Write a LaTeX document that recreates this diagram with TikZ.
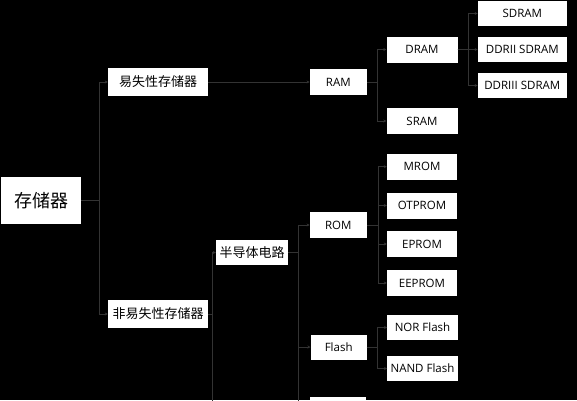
\documentclass[tikz,border=0pt]{standalone}
\usepackage{fontspec}
\setmainfont{Open Sans}
\newfontfamily\cjk{Noto Sans CJK SC}
\usetikzlibrary{arrows.meta}

\begin{document}
\begin{tikzpicture}[x=1pt, y=-1pt,
  box/.style={fill=white, inner sep=0pt, minimum width=71pt, minimum height=26pt, font=\fontsize{11.5}{13}\selectfont},
  cnbox/.style={box, font=\cjk\fontsize{13}{15}\selectfont},
  link/.style={draw=black!80, line width=0.6pt, -{Stealth[length=3pt, width=3pt]}}]
\fill[black] (0,0) rectangle (577,400);
\useasboundingbox (0,0) rectangle (577,400);

% Nodes
\node[cnbox, minimum width=80pt, minimum height=47pt, font=\cjk\fontsize{18}{20}\selectfont] (store) at (41,200.5) {存储器};
\node[cnbox, minimum width=100pt, minimum height=28pt] (vol) at (158,82) {易失性存储器};
\node[cnbox, minimum width=100pt, minimum height=28pt] (nonvol) at (158,314) {非易失性存储器};
\node[cnbox, minimum width=72pt, minimum height=25pt] (semi) at (252,252.5) {半导体电路};
\node[box, minimum width=57pt] (ram) at (338.3,82) {RAM};
\node[box] (dram) at (422,49.5) {DRAM};
\node[box] (sram) at (422,121) {SRAM};
\node[box, minimum width=89pt, minimum height=25pt] (sdram) at (522.3,13.5) {SDRAM};
\node[box, minimum width=89pt, minimum height=25pt] (ddrtwo) at (522.3,49.5) {DDRII SDRAM};
\node[box, minimum width=89pt, minimum height=25pt] (ddrthree) at (522.3,85.5) {DDRIII SDRAM};
\node[box, minimum width=57pt, minimum height=25.5pt] (rom) at (338.3,225) {ROM};
\node[box, minimum width=70pt] (mrom) at (422,166.7) {MROM};
\node[box, minimum width=70pt] (otprom) at (422,205.5) {OTPROM};
\node[box, minimum width=70pt] (eprom) at (422,244) {EPROM};
\node[box, minimum width=70pt] (eeprom) at (422,283) {EEPROM};
\node[box, minimum width=56pt, minimum height=25pt] (flash) at (338.7,347) {Flash};
\node[box, minimum width=70.5pt, minimum height=25pt] (nor) at (422.5,327.5) {NOR Flash};
\node[box, minimum width=70.5pt, minimum height=25pt] (nand) at (422.5,368.5) {NAND Flash};
\node[box, minimum width=56pt] (more) at (338,410) {};
\coordinate (below) at (230,440);

% Links
\draw[link] (store.east) -- ++(18,0) |- (vol.west);
\draw[link] (store.east) -- ++(18,0) |- (nonvol.west);
\draw[link] (vol.east) -- (ram.west);
\draw[link] (ram.east) -- ++(10,0) |- (dram.west);
\draw[link] (ram.east) -- ++(10,0) |- (sram.west);
\draw[link] (dram.east) -- ++(10.3,0) |- (sdram.west);
\draw[link] (dram.east) -- ++(10.3,0) |- (ddrtwo.west);
\draw[link] (dram.east) -- ++(10.3,0) |- (ddrthree.west);
\draw[link] (nonvol.east) -- ++(4,0) |- (semi.west);
\draw[link] (nonvol.east) -- ++(4,0) |- (below);
\draw[link] (semi.east) -- ++(10,0) |- (rom.west);
\draw[link] (semi.east) -- ++(10,0) |- (flash.west);
\draw[link] (semi.east) -- ++(10,0) |- (more.west);
\draw[link] (rom.east) -- ++(11,0) |- (mrom.west);
\draw[link] (rom.east) -- ++(11,0) |- (otprom.west);
\draw[link] (rom.east) -- ++(11,0) |- (eprom.west);
\draw[link] (rom.east) -- ++(11,0) |- (eeprom.west);
\draw[link] (flash.east) -- ++(10.5,0) |- (nor.west);
\draw[link] (flash.east) -- ++(10.5,0) |- (nand.west);
\end{tikzpicture}
\end{document}
